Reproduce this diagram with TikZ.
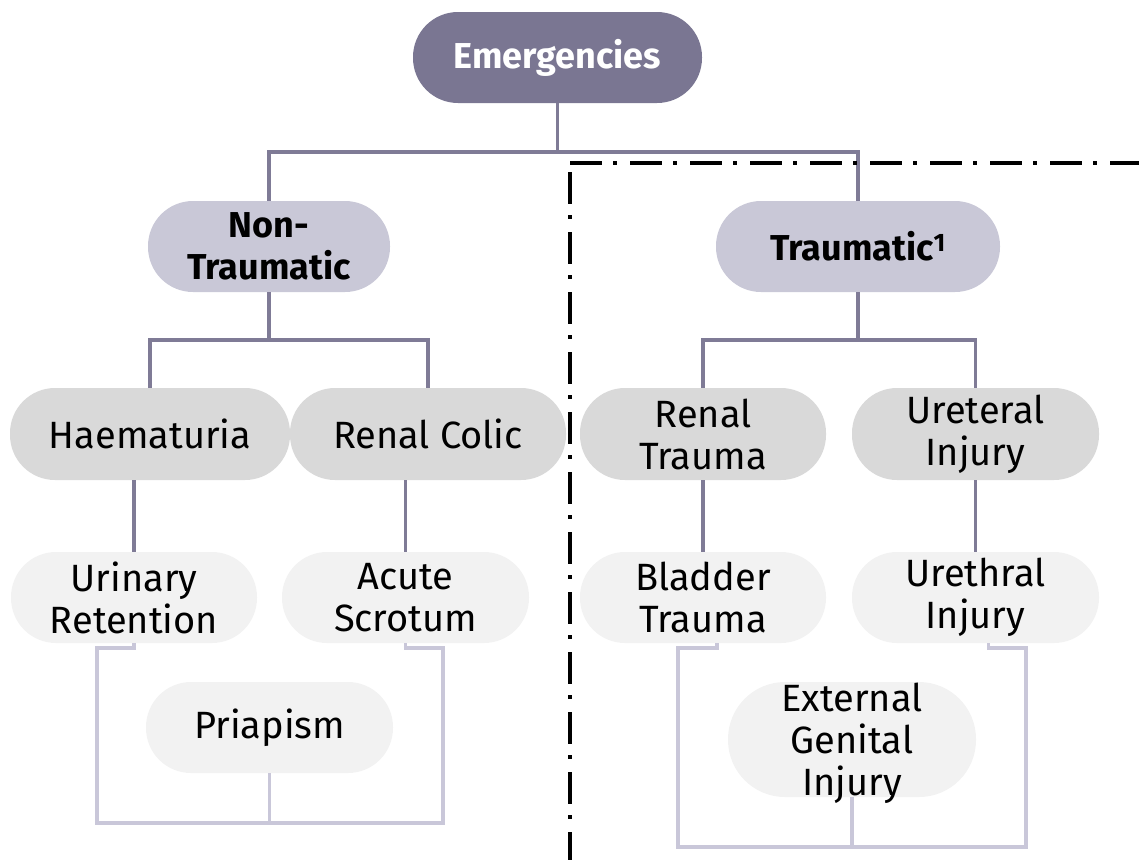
\documentclass[tikz,border=0pt]{standalone}
\usepackage{fontspec}
\setmainfont{Fira Sans}
\usetikzlibrary{calc}

\definecolor{topfill}{HTML}{7A7692}
\definecolor{mainfill}{HTML}{C9C8D7}
\definecolor{subfill}{HTML}{D9D9D9}
\definecolor{leaffill}{HTML}{F2F2F2}
\definecolor{linkcol}{HTML}{7F7B96}
\definecolor{leaflinkcol}{HTML}{C9C7D9}

\begin{document}
\begin{tikzpicture}[x=1pt,y=-1pt,
  pill/.style={rounded corners=45pt,minimum height=91pt,inner sep=0pt,align=center,
    font=\fontsize{38}{42}\selectfont},
  topbox/.style={pill,fill=topfill,text=white,font=\fontsize{36}{42}\selectfont\bfseries},
  mainbox/.style={pill,fill=mainfill,font=\fontsize{36}{42}\selectfont\bfseries},
  subbox/.style={pill,fill=subfill,minimum height=92pt},
  leafbox/.style={pill,fill=leaffill},
  link/.style={draw=linkcol,line width=3.5pt},
  leaflink/.style={draw=leaflinkcol,line width=3.5pt},
  region/.style={line width=4pt,dash pattern=on 32pt off 11pt on 4pt off 13pt}]
  \useasboundingbox (0,0) rectangle (1139,860);

  % boxes
  \node[topbox,minimum width=289pt] (emerg) at (557.5,57.5) {Emergencies};
  \node[mainbox,minimum width=242pt] (nontrau) at (269,246.5) {Non-\\Traumatic};
  \node[mainbox,minimum width=284pt] (trau) at (858,246.5) {Traumatic\textsuperscript{1}};

  \node[subbox,minimum width=280pt] (haem) at (150,434) {Haematuria};
  \node[subbox,minimum width=276pt] (colic) at (428,434) {Renal Colic};
  \node[subbox,minimum width=246pt] (rtrauma) at (703,434) {Renal\\Trauma};
  \node[subbox,minimum width=247pt] (ureter) at (975.5,434) {Ureteral\\Injury};

  \node[leafbox,minimum width=246pt] (uret) at (134,597.5) {Urinary\\Retention};
  \node[leafbox,minimum width=247pt] (scrot) at (405.5,597.5) {Acute\\Scrotum};
  \node[leafbox,minimum width=246pt] (bladder) at (703,597.5) {Bladder\\Trauma};
  \node[leafbox,minimum width=247pt] (urethral) at (975.5,597.5) {Urethral\\Injury};

  \node[leafbox,minimum width=247pt] (priap) at (269.5,727.5) {Priapism};
  \node[leafbox,minimum width=248pt,minimum height=115pt,rounded corners=57pt,
    text depth=0pt] (egi) at (852,739.5) {External\\Genital\\Injury};

  % tree links
  \coordinate (j1) at (557.5,152);
  \coordinate (j2) at (269,340);
  \coordinate (j3) at (858,340);
  \draw[link] (emerg) -- (j1);
  \draw[link] (nontrau.north) |- (j1) -| (trau.north);
  \draw[link] (nontrau) -- (j2);
  \draw[link] (haem.north) |- (j2) -| (colic.north);
  \draw[link] (trau) -- (j3);
  \draw[link] (rtrauma.north) |- (j3) -| (ureter.north);

  \draw[link] (uret.north) -- (uret.north |- haem.south);
  \draw[link] (scrot.north) -- (scrot.north |- colic.south);
  \draw[link] (bladder) -- (rtrauma);
  \draw[link] (urethral) -- (ureter);

  % brackets
  \coordinate (lb1) at (97,823);
  \coordinate (lb2) at (443,823);
  \draw[leaflink] (uret.south) -- ++(0,5) -| (lb1) -- (lb2)
    |- ($(scrot.south)+(0,5)$) -- (scrot.south);
  \draw[leaflink] (priap) -- (priap |- lb1);

  \coordinate (rb1) at (678,847);
  \coordinate (rb2) at (1026,847);
  \draw[leaflink] ($(bladder.south)+(14,0)$) -- ++(0,5) -| (rb1) -- (rb2)
    |- ($(urethral.south)+(13,5)$) -- ++(0,-5);
  \draw[leaflink] (egi) -- (egi |- rb1);

  % traumatic region
  \draw[region] (570,172) -- (570,860);
  \draw[region] (570,163) -- (1139,163);
\end{tikzpicture}
\end{document}
